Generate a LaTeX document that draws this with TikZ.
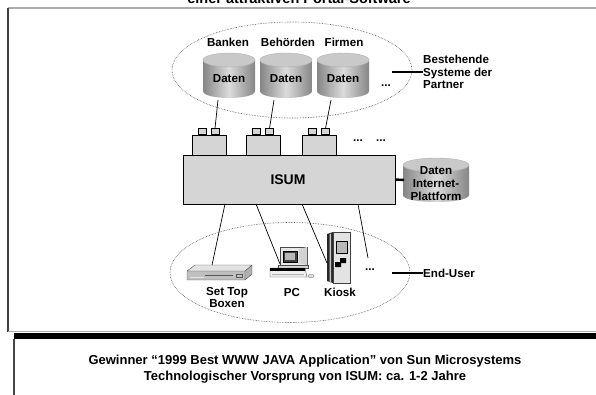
\documentclass[tikz,border=0pt]{standalone}
\usepackage{fontspec}
\setmainfont{Liberation Sans}
\usetikzlibrary{calc}

% shaded database cylinder: name, centre x, top-ellipse y, half width, body height, label
\newcommand\dbcyl[6]{%
  \shade[left color=gray!95, right color=gray!95, middle color=gray!28]
    (#2-#4,#3) -- (#2-#4,#3+#5)
    .. controls (#2-#4,#3+#5+9.3) and (#2+#4,#3+#5+9.3) .. (#2+#4,#3+#5)
    -- (#2+#4,#3) -- cycle;
  \filldraw[fill=gray!42, draw=gray!60, line width=0.4pt]
    (#2,#3) ellipse[x radius=#4pt, y radius=7pt];
  \node[lbl] (#1) at (#2,#3+#5/2+3.5) {#6};
}

\begin{document}
\begin{tikzpicture}[x=1pt,y=-1pt,
  lbl/.style={font=\bfseries\fontsize{11.6}{12.8}\selectfont, inner sep=0pt, align=center},
  conn/.style={draw=black, line width=0.7pt},
  legline/.style={draw=black, line width=2.4pt},
  grp/.style={draw=black!70, densely dotted, line width=0.6pt},
  adbox/.style={draw=black, line width=0.6pt, fill=gray!33, inner sep=0pt},
  devline/.style={draw=black!70, line width=0.4pt},
]
\useasboundingbox (0,0) rectangle (596,394);

% page frame
\draw[gray!65, line width=1.2pt] (8,8) -- (600,8);
\draw[black!75, line width=1.2pt] (8,8) -- (8,332);
\draw[gray!65, line width=1pt] (8,331.5) -- (600,331.5);
\fill[black] (14,333) rectangle (600,339);
\draw[gray!55!black, line width=1.2pt] (14,339) -- (14,400);

% heading (cut by the page edge)
\node[font=\bfseries\fontsize{14.5}{16}\selectfont, anchor=base, inner sep=0pt]
  (title) at (299,3.5) {einer attraktiven Portal-Software};

% ---------- partner systems ----------
\draw[grp] (292,70) ellipse[x radius=120pt, y radius=48pt];
\node[lbl] (banken) at (228,42) {Banken};
\node[lbl] (behoerden) at (288,42) {Behörden};
\node[lbl] (firmen) at (344,42) {Firmen};

\dbcyl{db1}{229}{60}{26}{31}{Daten}
\dbcyl{db2}{286}{60}{26}{31}{Daten}
\dbcyl{db3}{343}{60}{26}{31}{Daten}
\node[lbl] (dbmore) at (386,86) {...};

\node[lbl, anchor=west, align=left] (partner) at (423,72)
  {Bestehende\\Systeme der\\Partner};
\coordinate (partnerleg) at (392,72);
\draw[legline] (partnerleg) -- (partner.west);

% ---------- adapters ----------
\foreach \i/\x in {1/209, 2/263.5, 3/319.5}{
  \node[adbox, minimum width=34pt, minimum height=20pt] (ad\i) at (\x,145) {};
  \node[adbox, minimum width=8pt, minimum height=6pt, anchor=south] (ad\i a) at (\x-7,135) {};
  \node[adbox, minimum width=8pt, minimum height=6pt, anchor=south] (ad\i b) at (\x+6,135) {};
}
\node[lbl] (admore1) at (358,141) {...};
\node[lbl] (admore2) at (381,141) {...};

\coordinate (db1out) at (218,100);
\coordinate (db2out) at (274,100);
\coordinate (db3out) at (331,100);
\draw[conn] (db1out) -- (ad1b.north);
\draw[conn] (db2out) -- (ad2b.north);
\draw[conn] (db3out) -- (ad3b.north);

% ---------- ISUM ----------
\node[adbox, line width=0.8pt, minimum width=212pt, minimum height=49pt] (isum) at (289,179.5) {};
\node[font=\bfseries\fontsize{14}{15}\selectfont, inner sep=0pt] (isumlabel) at (288,180) {ISUM};

\dbcyl{platform}{436}{165}{33}{30}{Daten\\Internet-\\Plattform}
\coordinate (platformin) at (404,180);
\draw[legline] (isum.east) -- (platformin);

% ---------- end users ----------
\draw[grp] (290,272.5) ellipse[x radius=120pt, y radius=50pt];

% set top box
\fill[gray!22] (187,271) -- (195,265) -- (252,265) -- (245,271) -- cycle;
\fill[gray!50] (187,271) rectangle (245,280);
\fill[gray!62] (245,271) -- (252,265) -- (252,274) -- (245,280) -- cycle;
\draw[devline] (187,271) -- (195,265) -- (252,265) -- (252,274) -- (245,280) -- (187,280) -- cycle
  (187,271) -- (245,271) -- (252,265) (245,271) -- (245,280);
\draw[black!65, line width=0.5pt] (205,275.5) -- (233,275.5) (236,274) rectangle (242,277);
\draw[gray!20, line width=0.4pt] (190,277.5) -- (204,277.5);
\node[inner sep=0pt, minimum width=65pt, minimum height=15pt] (stb) at (219.5,272.5) {};

% PC
\filldraw[fill=gray!18, draw=black!70, line width=0.4pt] (280,247) rectangle (307,265);
\fill[gray!35] (299,249) -- (307,247) -- (307,265) -- (299,263) -- cycle;
\filldraw[fill=black!75, draw=black, line width=0.5pt] (283,251) rectangle (297,262);
\fill[gray!55] (285,253) rectangle (295,260);
\filldraw[fill=gray!30, draw=black!70, line width=0.4pt] (278,265) rectangle (308,268);
\filldraw[fill=gray!12, draw=black!70, line width=0.4pt] (270,268) -- (305,268) -- (307,277) -- (270,277) -- cycle;
\fill[black] (270,268) rectangle (305,271);
\draw[gray!60, line width=0.3pt] (272,274) -- (304,274);
\filldraw[fill=gray!25, draw=black!60, line width=0.3pt] (311,276) ellipse[x radius=3.2pt, y radius=1.6pt];
\node[inner sep=0pt, minimum width=38pt, minimum height=30pt] (pc) at (290,262) {};

% kiosk
\fill[black!85] (327,234) -- (333,232) -- (333,283) -- (327,281) -- cycle;
\fill[gray!45] (329.5,234) -- (331,233.5) -- (331,282.5) -- (329.5,282) -- cycle;
\filldraw[fill=gray!22, draw=black!75, line width=0.4pt] (333,232) rectangle (350,283);
\filldraw[fill=gray!55, draw=black, line width=0.6pt] (336,241) rectangle (347,253);
\fill[black] (335,267) -- (335,262) -- (340,262) -- (340,258) -- (346,258) -- (346,263) -- (341,263) -- (341,267) -- cycle;
\node[inner sep=0pt, minimum width=23pt, minimum height=51pt] (kiosk) at (338.5,257.5) {};

\node[lbl] (usermore) at (370,270) {...};

% device labels
\node[lbl] (stblabel) at (227,297.5) {Set Top\\Boxen};
\node[lbl] (pclabel) at (292,292) {PC};
\node[lbl] (kiosklabel) at (340,292) {Kiosk};

\node[lbl, anchor=west] (enduser) at (423,273) {End-User};
\coordinate (enduserleg) at (392,273);
\draw[legline] (enduserleg) -- (enduser.west);

% links from ISUM to the devices
\coordinate (isum1) at (225,204);
\coordinate (isum2) at (256,204);
\coordinate (isum3) at (302,204);
\coordinate (isum4) at (358,204);
\coordinate (stbin) at (212,265);
\coordinate (pcin) at (280,264);
\coordinate (kioskin) at (327,263);
\coordinate (morein) at (368,258);
\draw[conn] (isum1) -- (stbin);
\draw[conn] (isum2) -- (pcin);
\draw[conn] (isum3) -- (kioskin);
\draw[conn] (isum4) -- (morein);

% ---------- footer ----------
\node[font=\bfseries\fontsize{13}{16}\selectfont, align=center, inner sep=0pt] (award) at (305,369)
  {Gewinner “1999 Best WWW JAVA Application” von Sun Microsystems\\
   Technologischer Vorsprung von ISUM: ca. 1-2 Jahre};
\end{tikzpicture}
\end{document}
